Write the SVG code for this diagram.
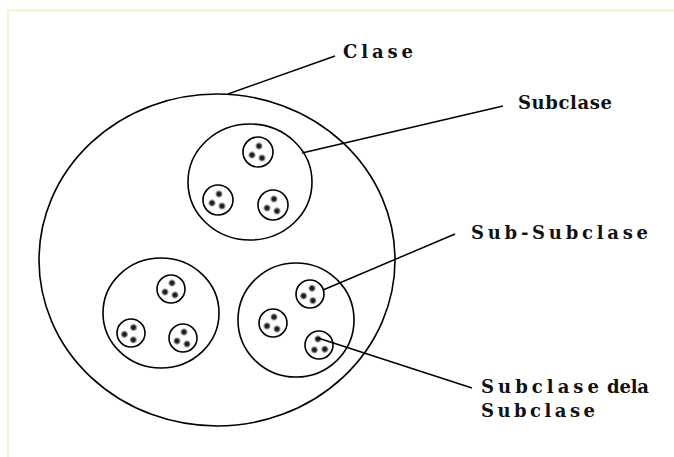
<svg xmlns="http://www.w3.org/2000/svg" xmlns:xlink="http://www.w3.org/1999/xlink" width="674" height="457" viewBox="0 0 674 457">
<style>
.ring{fill:none;stroke:#000;stroke-width:1.6}
.small{fill:#fff;stroke:#000;stroke-width:1.6}
.lead{stroke:#000;stroke-width:1.5;fill:none}
.lbl{font-family:"DejaVu Serif","Liberation Serif",serif;font-weight:bold;font-size:18px;fill:#111}
</style>
<defs>
<radialGradient id="dg">
<stop offset="0" stop-color="#111"/>
<stop offset="0.45" stop-color="#2a2a2a"/>
<stop offset="0.75" stop-color="#777" stop-opacity="0.6"/>
<stop offset="1" stop-color="#bbb" stop-opacity="0"/>
</radialGradient>
<g id="dots">
<circle cx="1" cy="-6" r="4.3" fill="url(#dg)"/>
<circle cx="-6" cy="3" r="4.3" fill="url(#dg)"/>
<circle cx="4" cy="6" r="4.3" fill="url(#dg)"/>
</g>
</defs>
<rect width="674" height="457" fill="#fff"/>
<path d="M7 10.5H674M8 10V457" stroke="#f3ecc4" stroke-width="1.6" fill="none"/>

<g id="clase">
<ellipse class="ring" cx="217" cy="260" rx="178" ry="166"/>
</g>

<g id="subclase1">
<ellipse class="ring" cx="250" cy="182" rx="62" ry="58"/>
<g id="s1a"><circle class="small" cx="258" cy="152" r="15"/><use xlink:href="#dots" transform="translate(258 152)"/></g>
<g id="s1b"><circle class="small" cx="218" cy="200" r="15"/><use xlink:href="#dots" transform="translate(218 200)"/></g>
<g id="s1c"><circle class="small" cx="273" cy="205" r="15"/><use xlink:href="#dots" transform="translate(273 205)"/></g>
</g>

<g id="subclase2">
<ellipse class="ring" cx="161" cy="313" rx="58" ry="55"/>
<g id="s2a"><circle class="small" cx="171" cy="289" r="14"/><use xlink:href="#dots" transform="translate(171 289)"/></g>
<g id="s2b"><circle class="small" cx="131" cy="333" r="14"/><use xlink:href="#dots" transform="translate(131 333) rotate(15)"/></g>
<g id="s2c"><circle class="small" cx="183" cy="338" r="14"/><use xlink:href="#dots" transform="translate(183 338)"/></g>
</g>

<g id="subclase3">
<ellipse class="ring" cx="296" cy="320" rx="58" ry="57"/>
<g id="s3a"><circle class="small" cx="310" cy="294" r="14"/><use xlink:href="#dots" transform="translate(310 294) rotate(10)"/></g>
<g id="s3b"><circle class="small" cx="273" cy="323" r="14"/><use xlink:href="#dots" transform="translate(273 323)"/></g>
<g id="s3c"><circle class="small" cx="319" cy="345" r="14"/><use xlink:href="#dots" transform="translate(319 345) rotate(-20)"/></g>
</g>

<g id="connectors">
<line class="lead" x1="228" y1="94" x2="335" y2="56"/>
<line class="lead" x1="302" y1="153" x2="503" y2="106"/>
<line class="lead" x1="323" y1="290" x2="455" y2="234"/>
<line class="lead" x1="318" y1="338" x2="472" y2="388"/>
</g>

<g id="labels">
<text class="lbl" x="343" y="58" textLength="70" lengthAdjust="spacing">Clase</text>
<text class="lbl" x="518" y="109" textLength="94" lengthAdjust="spacing">Subclase</text>
<text class="lbl" x="471" y="239" textLength="177" lengthAdjust="spacing">Sub-Subclase</text>
<text class="lbl" x="481" y="393"><tspan textLength="118" lengthAdjust="spacing">Subclase</tspan> <tspan x="607" textLength="42" lengthAdjust="spacing">dela</tspan></text>
<text class="lbl" x="481" y="417" textLength="114" lengthAdjust="spacing">Subclase</text>
</g>
</svg>
